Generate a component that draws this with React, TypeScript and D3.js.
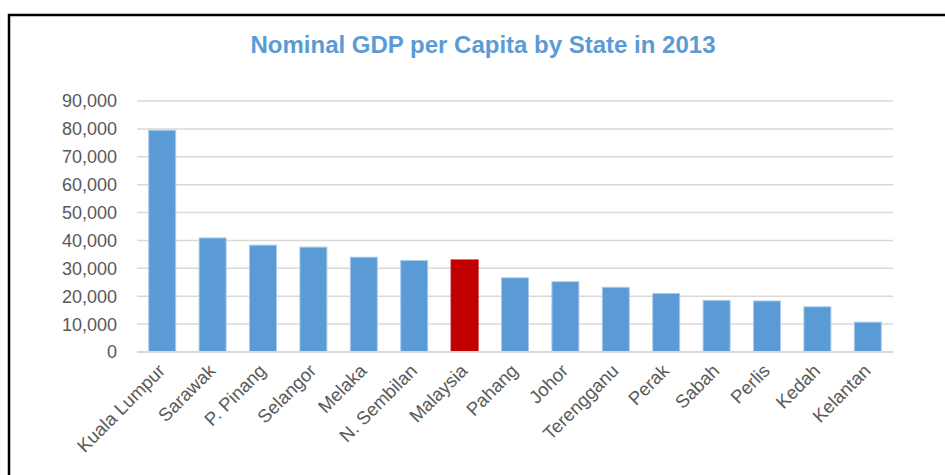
import React from "react";
import * as d3 from "d3";

const categories = [
  "Kuala Lumpur", "Sarawak", "P. Pinang", "Selangor", "Melaka", "N. Sembilan",
  "Malaysia", "Pahang", "Johor", "Terengganu", "Perak", "Sabah", "Perlis", "Kedah", "Kelantan",
];
const values = [
  79500, 40900, 38300, 37600, 34000, 32800, 33000, 26600, 25200, 23200, 21000, 18500, 18300, 16200, 10700,
];
const highlight = ["Malaysia"];
const yTicks = [0, 10000, 20000, 30000, 40000, 50000, 60000, 70000, 80000, 90000];
const title = "Nominal GDP per Capita by State in 2013";

const W = 945;
const H = 475;
const left = 137;
const right = 893;
const top = 101;
const bottom = 352;

export default function App() {
  const x = d3.scaleBand<string>().domain(categories).range([left, right]).paddingInner(0.465).paddingOuter(0.2325);
  const y = d3.scaleLinear().domain([0, 90000]).range([bottom, top]);
  const fmt = d3.format(",");
  const font = "'Liberation Sans', Arial, sans-serif";
  return (
    <svg width={W} height={H} style={{ position: "absolute", left: 0, top: 0, background: "#fff" }} fontFamily={font}>
      <rect x={0} y={0} width={W} height={H} fill="#fff" />
      <path d={`M${W + 5},15 H9 V${H + 5}`} fill="none" stroke="#000" strokeWidth={2.5} />
      <text x={483} y={53} textAnchor="middle" fontSize={24} fontWeight="bold" fill="#5B9BD5">
        {title}
      </text>
      {yTicks.map((t) => (
        <g key={t}>
          {t > 0 && (
            <line x1={left} x2={right} y1={y(t)} y2={y(t)} stroke="#D9D9D9" strokeWidth={1.5} />
          )}
          <text x={117} y={y(t)} dy="0.36em" textAnchor="end" fontSize={18} fill="#595959">
            {fmt(t)}
          </text>
        </g>
      ))}
      {categories.map((c, i) => (
        <rect
          key={c}
          x={x(c)}
          y={y(values[i])}
          width={x.bandwidth()}
          height={y(0) - y(values[i])}
          fill={highlight.includes(c) ? "#C00000" : "#5B9BD5"}
          stroke={highlight.includes(c) ? "#C00000" : "#A9C9EB"}
          strokeWidth={1}
        />
      ))}
      <line x1={left} x2={right} y1={y(0)} y2={y(0)} stroke="#D9D9D9" strokeWidth={2} />
      {categories.map((c) => {
        const cx = (x(c) as number) + x.bandwidth() / 2 + 4;
        const cy = 372;
        return (
          <text
            key={c}
            x={cx}
            y={cy}
            textAnchor="end"
            fontSize={18.5}
            fill="#595959"
            transform={`rotate(-45 ${cx} ${cy})`}
          >
            {c}
          </text>
        );
      })}
    </svg>
  );
}
